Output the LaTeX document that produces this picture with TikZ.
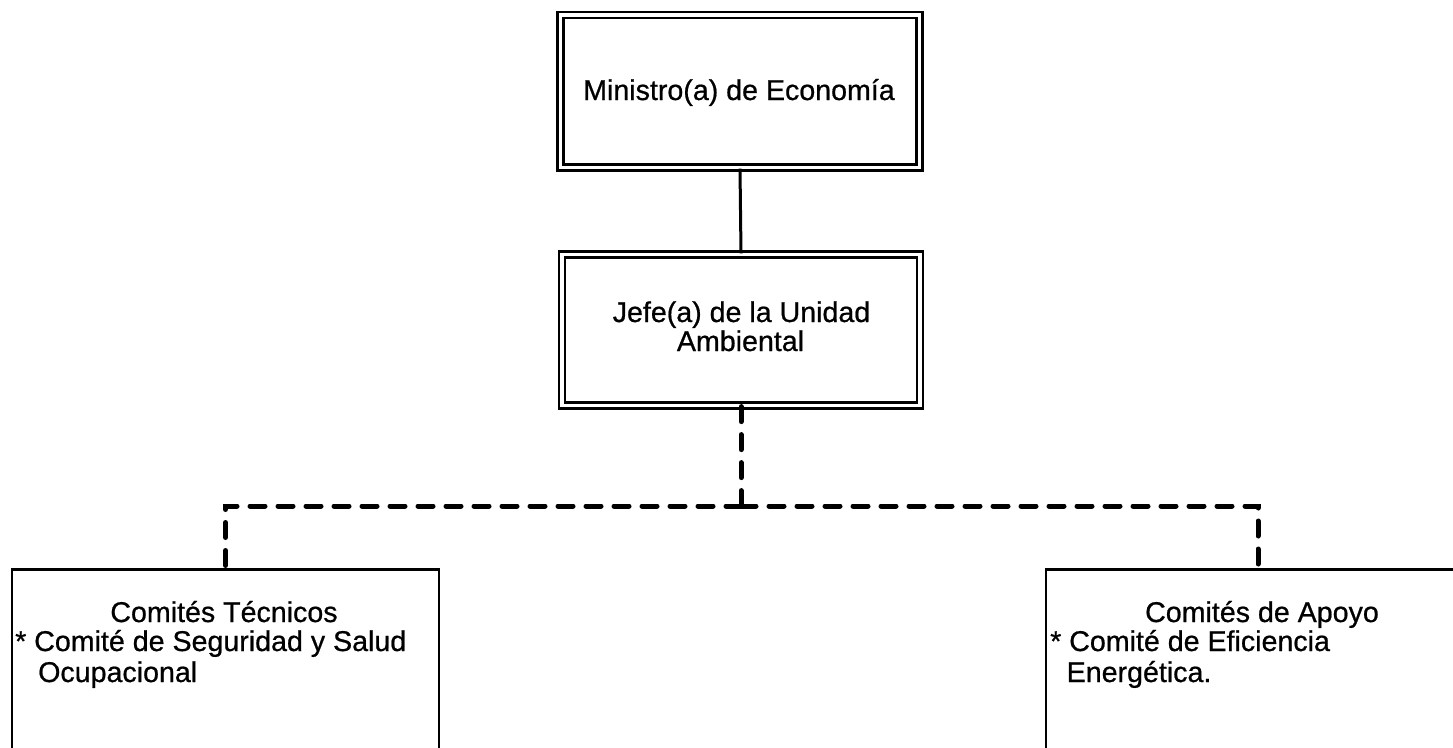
\documentclass[tikz,border=0pt]{standalone}
\usepackage{fontspec}
\setmainfont{Liberation Sans}
\newfontfamily\heavyfont[FakeBold=0.7]{Liberation Sans}
\begin{document}
\begin{tikzpicture}[x=1pt,y=-1pt,
  dblbox/.style={draw, line width=2.2pt, double, double distance=3.8pt, minimum width=#1, inner sep=0pt},
  plainbox/.style={draw, line width=2.5pt, inner sep=0pt},
  txt/.style={inner sep=0pt, font=\heavyfont\fontsize{28.6}{30}\selectfont},
  solidline/.style={line width=3pt},
  dashline/.style={line width=5pt, line cap=round, dash pattern=on 15pt off 13pt}
]
\clip (0,0) rectangle (1453,747);
\fill[white] (0,0) rectangle (1453,747);

% boxes
\node[dblbox=359pt, minimum height=152.5pt] (min) at (740,91.25) {};
\node[dblbox=358pt, minimum height=151pt] (jefe) at (741,330) {};
\node[plainbox, minimum width=427pt, minimum height=400pt, anchor=north] (tec) at (225.5,568) {};
\node[plainbox, minimum width=424pt, minimum height=400pt, anchor=north] (apo) at (1258,568) {};

% texts
\node[txt, anchor=base] (minT) at (739,100) {Ministro(a) de Economía};
\node[txt, anchor=base] (jefeT1) at (741.5,322) {Jefe(a) de la Unidad};
\node[txt, anchor=base] (jefeT2) at (740.5,351) {Ambiental};
\node[txt, anchor=base] (tecT1) at (224,622) {Comités Técnicos};
\node[txt, anchor=base west] (tecT2) at (15,651) {* Comité de Seguridad y Salud};
\node[txt, anchor=base west] (tecT3) at (38,682) {Ocupacional};
\node[txt, anchor=base] (apoT1) at (1262,622) {Comités de Apoyo};
\node[txt, anchor=base west] (apoT2) at (1050,651) {* Comité de Eficiencia};
\node[txt, anchor=base west] (apoT3) at (1066.5,682) {Energética.};

% connectors
\coordinate (bus) at (741,506);
\draw[solidline] (min.south) -- (jefe.north);
\draw[dashline] (jefe.south) -- (bus);
\draw[dashline] (bus) -| (tec.north);
\draw[dashline] (bus) -| (apo.north);
\end{tikzpicture}
\end{document}
